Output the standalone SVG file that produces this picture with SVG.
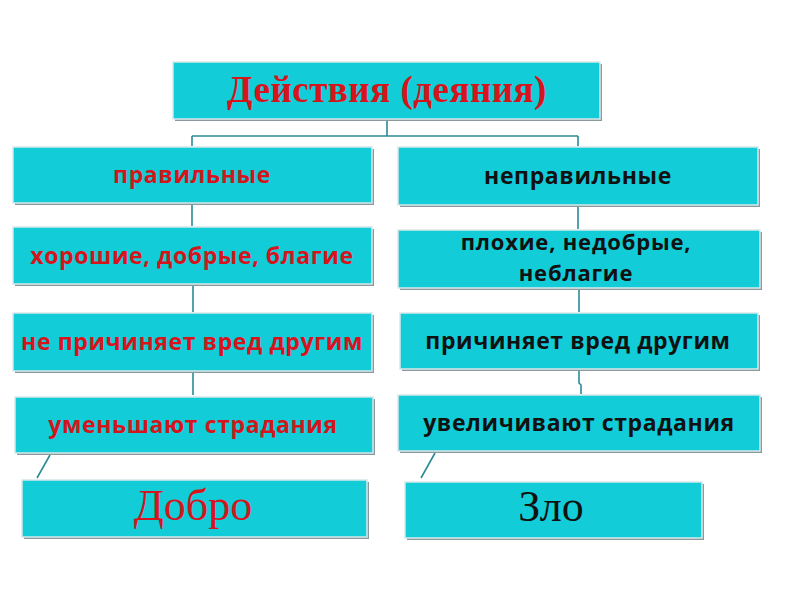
<svg xmlns="http://www.w3.org/2000/svg" width="800" height="600" viewBox="0 0 800 600">
<style>
.box{fill:#12CDD8;stroke:#d8e8ea;stroke-width:1.5}
.sh{fill:#8a9a9c}
.t{font-family:"Open Sans","Noto Sans",sans-serif;font-weight:bold;font-size:23px;text-anchor:middle;letter-spacing:0.6px}
.t2{font-size:22px;letter-spacing:0.8px}
.r{fill:#D5141C}
.k{fill:#111}
.big{font-family:"Liberation Serif",serif;font-size:44px;text-anchor:middle}
.ttl{font-family:"Liberation Serif",serif;font-weight:bold;font-size:37px;text-anchor:middle;fill:#D5141C;letter-spacing:0.5px}
.c{stroke:#2b8a98;stroke-width:1.6;fill:none}
</style>
<rect width="800" height="600" fill="#fff"/>
<g id="connectors">
<path class="c" d="M387 119 V136 M192 136 H578 M192 136 V146 M578 136 V146"/>
<path class="c" d="M192 205 V226 M193 286 V312 M193 371 V395"/>
<path class="c" d="M578 206 V229 M579 289 V312 M579 370 V383 L581 385 V394"/>
<path class="c" d="M50 455 L37 478 M435 453 L421 478"/>
</g>
<g id="n-top"><rect class="sh" x="175" y="64" width="427" height="57"/><rect class="box" x="173" y="62" width="427" height="57"/><text class="ttl" x="387" y="102">Действия (деяния)</text></g>
<g id="n-pr"><rect class="sh" x="15" y="149" width="359" height="56"/><rect class="box" x="13" y="147" width="359" height="56"/><text class="t r" x="192" y="183">правильные</text></g>
<g id="n-npr"><rect class="sh" x="400" y="149" width="360" height="58"/><rect class="box" x="398" y="147" width="360" height="58"/><text class="t k" x="578" y="184">неправильные</text></g>
<g id="n-hor"><rect class="sh" x="15" y="229" width="359" height="57"/><rect class="box" x="13" y="227" width="359" height="57"/><text class="t r" x="192" y="264">хорошие, добрые, благие</text></g>
<g id="n-plo"><rect class="sh" x="400" y="232" width="362" height="58"/><rect class="box" x="398" y="230" width="362" height="58"/><text class="t t2 k" x="576" y="250">плохие, недобрые,</text><text class="t t2 k" x="576" y="281">неблагие</text></g>
<g id="n-nepr"><rect class="sh" x="15" y="315" width="359" height="58"/><rect class="box" x="13" y="313" width="359" height="58"/><text class="t r" x="192" y="350">не причиняет вред другим</text></g>
<g id="n-prich"><rect class="sh" x="402" y="315" width="358" height="56"/><rect class="box" x="400" y="313" width="358" height="56"/><text class="t k" x="578" y="349">причиняет вред другим</text></g>
<g id="n-um"><rect class="sh" x="17" y="399" width="358" height="56"/><rect class="box" x="15" y="397" width="358" height="56"/><text class="t r" x="193" y="433">уменьшают страдания</text></g>
<g id="n-uv"><rect class="sh" x="400" y="397" width="362" height="56"/><rect class="box" x="398" y="395" width="362" height="56"/><text class="t k" x="579" y="431">увеличивают страдания</text></g>
<g id="n-dobro"><rect class="sh" x="24" y="482" width="345" height="57"/><rect class="box" x="22" y="480" width="345" height="57"/><text class="big r" x="193" y="520">Добро</text></g>
<g id="n-zlo"><rect class="sh" x="407" y="484" width="297" height="56"/><rect class="box" x="405" y="482" width="297" height="56"/><text class="big k" x="551" y="521">Зло</text></g>
</svg>
